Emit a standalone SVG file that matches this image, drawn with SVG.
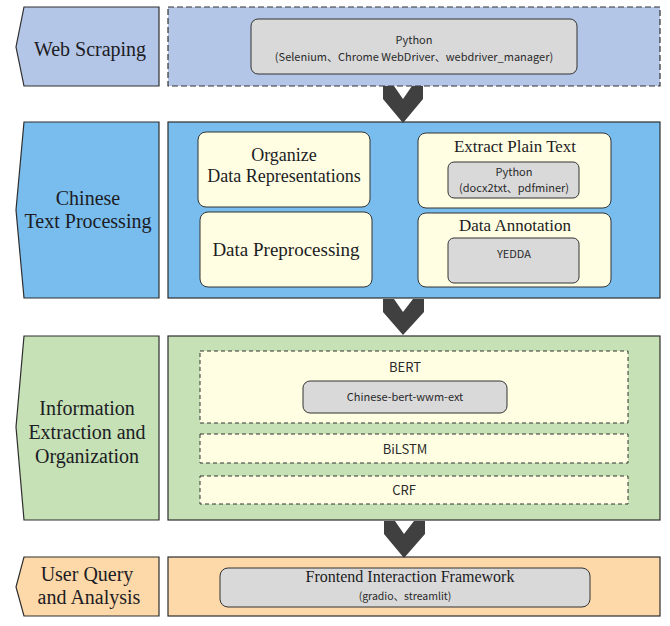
<svg xmlns="http://www.w3.org/2000/svg" width="670" height="626" viewBox="0 0 670 626">
<style>
.lbl{font-family:"Liberation Serif","Times New Roman",serif;font-size:20px;fill:#1c1c24;text-anchor:middle}
.ser{font-family:"Liberation Serif","Times New Roman",serif;fill:#1c1c24;text-anchor:middle}
.sans{font-family:"Noto Sans CJK SC","Noto Sans",sans-serif;font-weight:400;fill:#2a2a2a;text-anchor:middle}
.edge{stroke:#2e2e2e;stroke-width:1.2}
.gray{fill:#d9d9d9;stroke:#333;stroke-width:1}
.cream{fill:#fffee2;stroke:#333;stroke-width:1}
.dash{fill:#fffee2;stroke:#333;stroke-width:1;stroke-dasharray:4 3}
.chev{fill:#404040}
</style>
<rect width="670" height="626" fill="#ffffff"/>

<g id="row1">
  <polygon class="edge" fill="#b4c6e7" points="24,7 159,7 159,86 24,86 16,47"/>
  <text class="lbl" x="90" y="56">Web Scraping</text>
  <rect x="168" y="7" width="492" height="79" fill="#b4c6e7" stroke="#333" stroke-width="1.2" stroke-dasharray="6 3"/>
  <rect class="gray" x="251" y="19" width="326" height="55" rx="7"/>
  <text class="sans" x="414" y="44" font-size="11">Python</text>
  <text class="sans" x="414" y="61" font-size="11">(Selenium、Chrome WebDriver、webdriver_manager)</text>
</g>

<g id="row2">
  <polygon class="edge" fill="#78bdee" points="24,122 159,122 159,298 24,298 16,210"/>
  <text class="lbl" x="88" y="205">Chinese</text>
  <text class="lbl" x="88" y="228">Text Processing</text>
  <rect class="edge" x="168" y="122" width="492" height="176" fill="#78bdee"/>
  <g id="organize">
    <rect class="cream" x="198" y="132" width="172" height="75" rx="8"/>
    <text class="ser" x="284" y="161" font-size="18">Organize</text>
    <text class="ser" x="284" y="182" font-size="18">Data Representations</text>
  </g>
  <g id="preprocess">
    <rect class="cream" x="200" y="212" width="172" height="75" rx="8"/>
    <text class="ser" x="286" y="256" font-size="19">Data Preprocessing</text>
  </g>
  <g id="extract">
    <rect class="cream" x="418" y="133" width="193" height="75" rx="8"/>
    <text class="ser" x="515" y="152" font-size="17">Extract Plain Text</text>
    <rect class="gray" x="448" y="162" width="131" height="36" rx="6"/>
    <text class="sans" x="514" y="176" font-size="11">Python</text>
    <text class="sans" x="514" y="192" font-size="11">(docx2txt、pdfminer)</text>
  </g>
  <g id="annotation">
    <rect class="cream" x="418" y="213" width="193" height="74" rx="8"/>
    <text class="ser" x="515" y="231" font-size="17">Data Annotation</text>
    <rect class="gray" x="448" y="238" width="131" height="45" rx="6"/>
    <text class="sans" x="514" y="258" font-size="11">YEDDA</text>
  </g>
</g>

<g id="row3">
  <polygon class="edge" fill="#c5e1b5" points="24,336 159,336 159,520 24,520 16,427"/>
  <text class="lbl" x="87" y="415">Information</text>
  <text class="lbl" x="87" y="439">Extraction and</text>
  <text class="lbl" x="87" y="463">Organization</text>
  <rect class="edge" x="168" y="336" width="492" height="184" fill="#c5e1b5"/>
  <g id="bert">
    <rect class="dash" x="200" y="351" width="428" height="72"/>
    <text class="sans" x="405" y="372" font-size="13">BERT</text>
    <rect class="gray" x="303" y="381" width="204" height="32" rx="7"/>
    <text class="sans" x="405" y="401" font-size="11">Chinese-bert-wwm-ext</text>
  </g>
  <g id="bilstm">
    <rect class="dash" x="200" y="434" width="428" height="29"/>
    <text class="sans" x="405" y="454" font-size="13">BiLSTM</text>
  </g>
  <g id="crf">
    <rect class="dash" x="200" y="476" width="428" height="28"/>
    <text class="sans" x="404" y="495" font-size="13">CRF</text>
  </g>
</g>

<g id="row4">
  <polygon class="edge" fill="#fdd8a8" points="24,557 159,557 159,616 24,616 16,587"/>
  <text class="lbl" x="87" y="581">User Query</text>
  <text class="lbl" x="89" y="604">and Analysis</text>
  <rect class="edge" x="168" y="557" width="492" height="59" fill="#fdd8a8"/>
  <rect class="gray" x="220" y="568" width="370" height="39" rx="8"/>
  <text class="ser" x="410" y="582" font-size="16">Frontend Interaction Framework</text>
  <text class="sans" x="405" y="600" font-size="10.5">(gradio、streamlit)</text>
</g>

<g id="connectors">
  <polygon class="chev" points="383,86 394,86 403,99 412,86 423,86 423,99 403,123 383,99"/>
  <polygon class="chev" points="383,299 394,299 403,312 413,299 424,299 424,312 403,335 383,312"/>
  <polygon class="chev" points="384,521 395,521 404,534 414,521 425,521 425,534 404,558 384,534"/>
</g>
</svg>
